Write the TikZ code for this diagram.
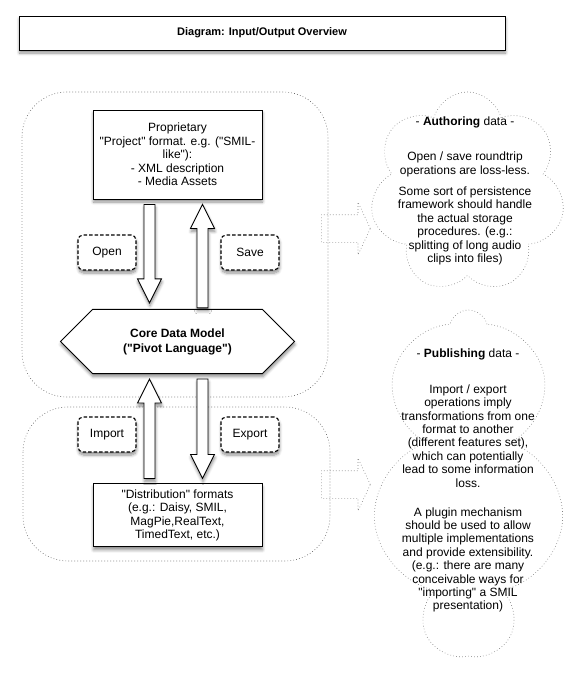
\documentclass[tikz,border=0pt]{standalone}
\usepackage{fontspec}
\setmainfont{Liberation Sans}[Ligatures=TeXOff]
\usetikzlibrary{calc,shapes.misc,shapes.symbols,shapes.arrows,shadows.blur}

\tikzset{
  every node/.style={font=\fontsize{12}{13.6}\selectfont},
  soft/.style={blur shadow={shadow xshift=0.5pt,shadow yshift=-3pt,shadow opacity=45,shadow blur steps=6,shadow blur radius=3pt}},
  titlebox/.style={draw,line width=0.9pt,fill=white,soft,minimum width=486pt,minimum height=34pt,font=\fontsize{11}{13}\selectfont\bfseries},
  databox/.style={draw,line width=0.9pt,fill=white,soft,align=center,minimum width=169pt,inner sep=0pt},
  corebox/.style={chamfered rectangle,draw,line width=0.9pt,fill=white,soft,align=center,
    font=\fontsize{12}{15}\selectfont\bfseries,minimum width=234pt,minimum height=63pt,
    chamfered rectangle xsep=69pt,chamfered rectangle ysep=19pt,inner sep=0pt},
  oplabel/.style={draw,dash pattern=on 3.5pt off 2pt,line width=1.1pt,rounded corners=5pt,fill=white,soft,minimum width=58pt,minimum height=35pt},
  region/.style={draw=black!65,line width=0.6pt,dash pattern=on 0.7pt off 2.3pt,rounded corners=45pt},
  bubble/.style={cloud,cloud puffs=7,cloud puff arc=150,cloud ignores aspect,draw=black!50,line width=0.6pt,dash pattern=on 0.7pt off 2.3pt},
  bubbletext/.style={align=center,font=\fontsize{12}{13.4}\selectfont},
  hint/.style={single arrow,draw=black!50,line width=0.6pt,dash pattern=on 0.7pt off 2.3pt,
    minimum height=49pt,minimum width=52pt,inner ysep=13.5pt,inner xsep=0pt,
    single arrow head extend=12.5pt,single arrow tip angle=130,anchor=west},
  fatarrow/.style={draw,line width=0.9pt,fill=white,soft,
    to path={let \p1=(\tikztostart),\p2=(\tikztotarget),\n1={\y2>\y1 ? 24 : -24} in
      ({\x1-5.5pt},\y1) -- ({\x1-5.5pt},{\y2-(\n1)*1pt}) -- ({\x1-12pt},{\y2-(\n1)*1pt}) --
      (\x1,\y2) -- ({\x1+12pt},{\y2-(\n1)*1pt}) -- ({\x1+5.5pt},{\y2-(\n1)*1pt}) --
      ({\x1+5.5pt},\y1) -- cycle}}
}

\begin{document}
\begin{tikzpicture}[x=1pt,y=-1pt]
  \useasboundingbox (0,0) rectangle (586,675);

  % dotted groups
  \draw[region] (22,92) rectangle (328,397);
  \draw[region] (23,407) rectangle (330,561);

  \node[titlebox] (title) at (262,33) {Diagram: Input/Output Overview};

  \node[databox,minimum height=89pt] (proj) at (177.5,154.5)
    {Proprietary\\"Project" format. e.g. ("SMIL-\\like"):\\- XML description\\- Media Assets};
  \node[corebox,below of=proj,yshift=-158.5pt] (core) {Core Data Model\\("Pivot Language")};
  \node[databox,minimum height=63pt,below of=core,yshift=-145.5pt] (dist)
    {"Distribution" formats\\(e.g.: Daisy, SMIL,\\MagPie,RealText,\\TimedText, etc.)};

  \node[oplabel] (open) at (107,252.5) {Open};
  \node[oplabel] (save) at (250,252.5) {Save};
  \node[oplabel] (import) at (107,434.5) {Import};
  \node[oplabel] (export) at (250,434.5) {Export};

  \draw[fatarrow] ($(proj.south)+(-28,5)$) to ($(core.north)+(-28,-6)$);
  \draw[fatarrow] ($(core.north)+(25,-1)$) to ($(proj.south)+(25,5)$);
  \draw[fatarrow] ($(dist.north)+(-28,-5)$) to ($(core.south)+(-28,5)$);
  \draw[fatarrow] ($(core.south)+(25,5)$) to ($(dist.north)+(25,-5)$);

  % notes
  \node[hint] (toauth) at (321,228.5) {};
  \node[hint] (topub) at (321,484.5) {};
  \node[bubble,minimum width=195pt,minimum height=201pt] (auth) at (467.5,192.5) {};
  \node[bubble,minimum width=193pt,minimum height=343pt] (pub) at (468.5,481.5) {};
  \node[bubbletext] (authtext) at (465,191)
    {- \textbf{Authoring} data -\\[21.6pt]Open / save roundtrip\\operations are loss-less.\\[8pt]%
     Some sort of persistence\\framework should handle\\the actual storage\\procedures. (e.g.:\\%
     splitting of long audio\\clips into files)};
  \node[bubbletext] (pubtext) at (468,480.5)
    {- \textbf{Publishing} data -\\[22.6pt]Import / export\\operations imply\\transformations from one\\%
     format to another\\(different features set),\\which can potentially\\lead to some information\\%
     loss.\\[15.6pt]A plugin mechanism\\should be used to allow\\multiple implementations\\%
     and provide extensibility.\\(e.g.: there are many\\conceivable ways for\\"importing" a SMIL\\%
     presentation)};
\end{tikzpicture}
\end{document}
